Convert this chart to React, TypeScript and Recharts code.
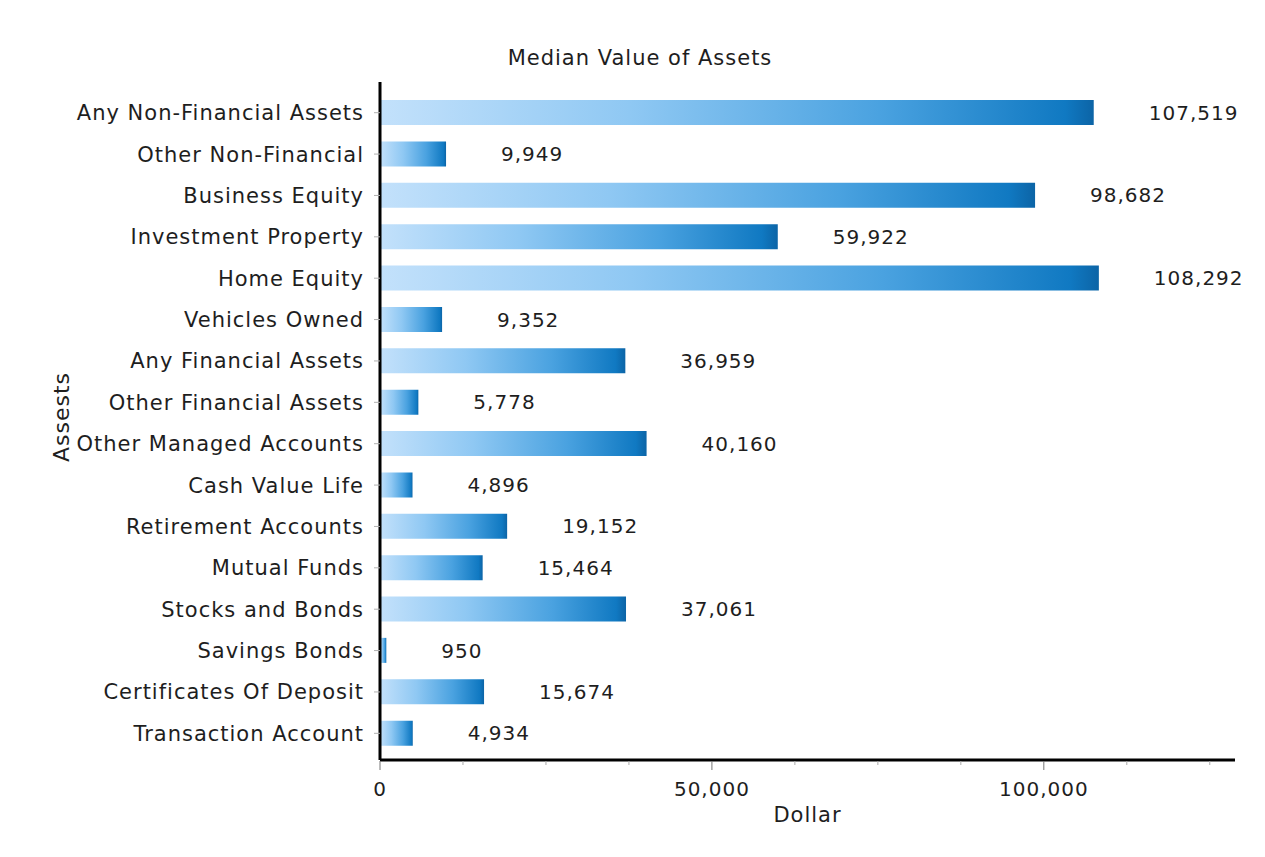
import React from 'react';
import { BarChart, Bar, XAxis, YAxis, LabelList } from 'recharts';

const categories = [
  'Any Non-Financial Assets',
  'Other Non-Financial',
  'Business Equity',
  'Investment Property',
  'Home Equity',
  'Vehicles Owned',
  'Any Financial Assets',
  'Other Financial Assets',
  'Other Managed Accounts',
  'Cash Value Life',
  'Retirement Accounts',
  'Mutual Funds',
  'Stocks and Bonds',
  'Savings Bonds',
  'Certificates Of Deposit',
  'Transaction Account',
];

const values = [
  107519, 9949, 98682, 59922, 108292, 9352, 36959, 5778, 40160, 4896, 19152,
  15464, 37061, 950, 15674, 4934,
];

const xTicks = [0, 12500, 25000, 37500, 50000, 62500, 75000, 87500, 100000, 112500, 125000];
const labeledTicks = [0, 50000, 100000];

const title = 'Median Value of Assets';
const xTitle = 'Dollar';
const yTitle = 'Assests';

const data = categories.map((name, i) => ({ name, value: values[i] }));

const FONT = '"DejaVu Sans", Verdana, sans-serif';
const TEXT = '#1e1e1e';

const fmt = (v: number) => v.toLocaleString('en-US');

const XTick = (props: any) => {
  const { x, y, payload } = props;
  const major = labeledTicks.includes(payload.value);
  return (
    <g>
      <line
        x1={x}
        x2={x}
        y1={y + 1}
        y2={y + (major ? 10 : 5)}
        stroke={major ? '#777' : '#aaa'}
        strokeWidth={1}
      />
      {major && (
        <text
          x={x}
          y={y + 36}
          textAnchor="middle"
          fill={TEXT}
          fontSize={20}
          fontFamily={FONT}
          letterSpacing={1}
        >
          {fmt(payload.value)}
        </text>
      )}
    </g>
  );
};

const YTick = (props: any) => {
  const { x, y, payload } = props;
  return (
    <text
      x={x}
      y={y}
      dy="0.36em"
      textAnchor="end"
      fill={TEXT}
      fontSize={21}
      fontFamily={FONT}
      letterSpacing={1}
    >
      {payload.value}
    </text>
  );
};

const ValueLabel = (props: any) => {
  const { x, y, width, height, value } = props;
  return (
    <text
      x={x + width + 55}
      y={y + height / 2}
      dy="0.36em"
      textAnchor="start"
      fill={TEXT}
      fontSize={20}
      fontFamily={FONT}
      letterSpacing={1}
    >
      {fmt(value)}
    </text>
  );
};

const XLabel = (props: any) => {
  const vb = props.viewBox;
  return (
    <text
      x={vb.x + vb.width / 2}
      y={vb.y + 62}
      textAnchor="middle"
      fill={TEXT}
      fontSize={21}
      fontFamily={FONT}
      letterSpacing={1}
    >
      {xTitle}
    </text>
  );
};

const YLabel = () => {
  const cx = 61;
  const cy = 417;
  return (
    <text
      x={cx}
      y={cy}
      dy="0.36em"
      textAnchor="middle"
      transform={`rotate(-90, ${cx}, ${cy})`}
      fill={TEXT}
      fontSize={22}
      fontFamily={FONT}
      letterSpacing={1}
    >
      {yTitle}
    </text>
  );
};

export default function App() {
  return (
    <div
      style={{
        position: 'absolute',
        left: 0,
        top: 0,
        width: 1265,
        height: 857,
        background: '#fff',
      }}
    >
      <div
        style={{
          position: 'absolute',
          left: 0,
          width: 1280,
          top: 44,
          textAlign: 'center',
          fontFamily: FONT,
          fontSize: 21,
          letterSpacing: 1,
          color: TEXT,
          lineHeight: '28px',
        }}
      >
        {title}
      </div>
      <BarChart
        width={1265}
        height={857}
        data={data}
        layout="vertical"
        margin={{ top: 82, right: 30, bottom: 0, left: 0 }}
        barSize={25}
      >
        <defs>
          <linearGradient id="barGrad" x1="0" y1="0" x2="1" y2="0">
            <stop offset="0%" stopColor="#c3e1fb" />
            <stop offset="35%" stopColor="#8fc8f3" />
            <stop offset="70%" stopColor="#4aa2e0" />
            <stop offset="96%" stopColor="#1079c2" />
            <stop offset="100%" stopColor="#0c64a6" />
          </linearGradient>
        </defs>
        <XAxis
          type="number"
          domain={[0, 128800]}
          ticks={xTicks}
          interval={0}
          tick={<XTick />}
          tickLine={false}
          tickSize={0}
          tickMargin={0}
          axisLine={{ stroke: '#000', strokeWidth: 3 }}
          label={<XLabel />}
          height={97}
        />
        <YAxis
          type="category"
          dataKey="name"
          width={380}
          interval={0}
          tick={<YTick />}
          tickSize={6}
          tickMargin={10}
          tickLine={{ stroke: '#b0b0b0' }}
          axisLine={{ stroke: '#000', strokeWidth: 3 }}
          padding={{ top: 10, bottom: 6 }}
          label={<YLabel />}
        />
        <Bar dataKey="value" fill="url(#barGrad)" isAnimationActive={false}>
          <LabelList dataKey="value" content={<ValueLabel />} />
        </Bar>
      </BarChart>
    </div>
  );
}
